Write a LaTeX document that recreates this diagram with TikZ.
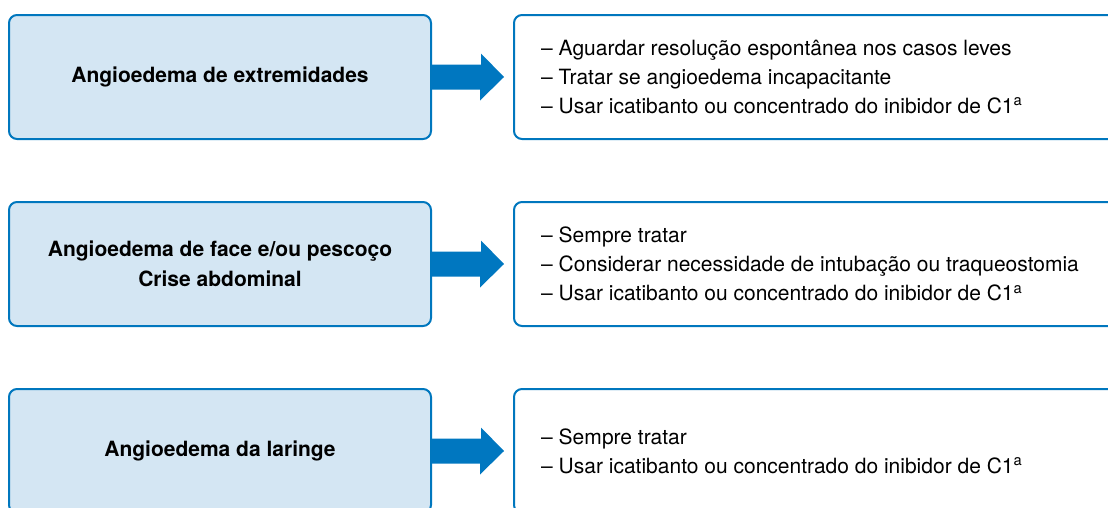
\documentclass[tikz,border=0pt]{standalone}
\usepackage{fontspec}
\setmainfont{TeX Gyre Heros}
\definecolor{bord}{RGB}{0,119,190}
\definecolor{lfill}{RGB}{212,230,243}
\definecolor{arrc}{RGB}{0,119,192}
\begin{document}
\begin{tikzpicture}[x=1pt,y=-1pt,
  leftbox/.style={draw=bord, line width=2pt, fill=lfill, rounded corners=8pt,
    minimum width=422pt, minimum height=124pt, font=\fontsize{21}{30.5}\selectfont\bfseries,
    align=center, inner sep=0pt},
  rightbox/.style={draw=bord, line width=2pt, fill=white, rounded corners=8pt,
    minimum width=610pt, minimum height=124pt, inner sep=0pt},
  listtext/.style={font=\fontsize{21}{29}\selectfont, align=left, anchor=west, inner sep=0pt},
  bigarrow/.style={fill=arrc}]
\useasboundingbox (0,0) rectangle (1108,507);
\clip (0,0) rectangle (1108,507);
% row 1
\node[leftbox] (l1) at (220,77) {Angioedema de extremidades};
\node[rightbox, anchor=west] (r1) at (513,77) {};
\node[listtext] (t1) at ([xshift=28pt]r1.west) {– Aguardar resolução espontânea nos casos leves\\– Tratar se angioedema incapacitante\\– Usar icatibanto ou concentrado do inibidor de C1\textsuperscript{a}};
% row 2
\node[leftbox] (l2) at (220,264) {Angioedema de face e/ou pescoço\\Crise abdominal};
\node[rightbox, anchor=west] (r2) at (513,264) {};
\node[listtext] (t2) at ([xshift=28pt]r2.west) {– Sempre tratar\\– Considerar necessidade de intubação ou traqueostomia\\– Usar icatibanto ou concentrado do inibidor de C1\textsuperscript{a}};
% row 3
\node[leftbox] (l3) at (220,451) {Angioedema da laringe};
\node[rightbox, anchor=west] (r3) at (513,451) {};
\node[listtext] (t3) at ([xshift=28pt]r3.west) {– Sempre tratar\\– Usar icatibanto ou concentrado do inibidor de C1\textsuperscript{a}};
% arrows
\foreach \i in {1,2,3}{
  \fill[bigarrow] (l\i.east) ++(0,-12.5) -- ++(49,0) -- ++(0,-11) -- ([xshift=-9pt]r\i.west) -- ++(-24,23.5) -- ++(0,-11) -- ++(-49,0) -- cycle;
}
\end{tikzpicture}
\end{document}
